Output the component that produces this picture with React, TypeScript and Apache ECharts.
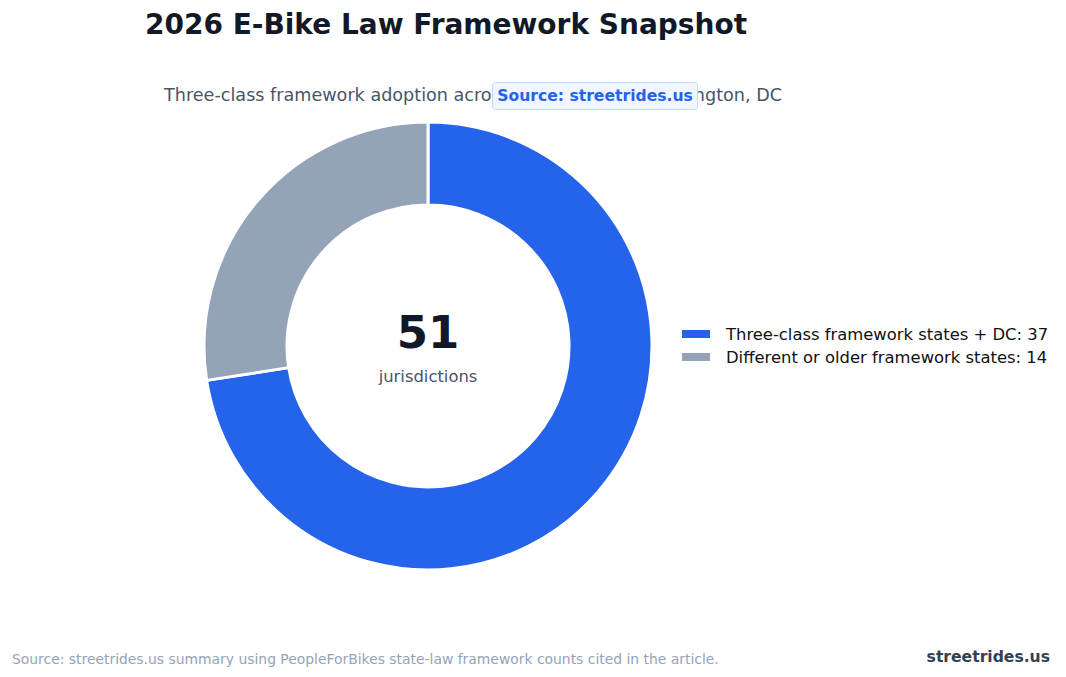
import React, { useEffect, useRef } from "react";
import * as echarts from "echarts";

const categories = ["Three-class framework states + DC", "Different or older framework states"];
const values = [37, 14];
const colors = ["#2563eb", "#94a3b8"];
const totalLabel = "51";
const totalSub = "jurisdictions";
const titleText = "2026 E-Bike Law Framework Snapshot";
const subtitleText = "Three-class framework adoption across 50 states and Washington, DC";
const sourceBadge = "Source: streetrides.us";
const footerText = "Source: streetrides.us summary using PeopleForBikes state-law framework counts cited in the article.";
const brandText = "streetrides.us";

const FONT = "DejaVu Sans";

export default function App() {
  const ref = useRef<HTMLDivElement>(null);
  useEffect(() => {
    document.body.style.margin = "0";
    if (!ref.current) return;
    const chart = echarts.init(ref.current, null, { renderer: "svg" });
    const lookup: Record<string, number> = {};
    categories.forEach((c, i) => (lookup[c] = values[i]));
    chart.setOption({
      animation: false,
      backgroundColor: "#ffffff",
      textStyle: { fontFamily: FONT },
      legend: {
        orient: "vertical",
        left: 675,
        top: 321,
        itemWidth: 30,
        itemHeight: 10,
        itemGap: 7,
        icon: "rect",
        textStyle: { fontFamily: FONT, fontSize: 16.4, color: "#111111", padding: [0, 0, 0, 10] },
        formatter: (name: string) => `${name}: ${lookup[name]}`,
        data: categories,
      },
      series: [
        {
          type: "pie",
          center: [428, 346],
          radius: [141, 224],
          startAngle: 90,
          clockwise: true,
          label: { show: false },
          labelLine: { show: false },
          emphasis: { disabled: true },
          itemStyle: { borderColor: "#ffffff", borderWidth: 3 },
          data: categories.map((c, i) => ({ name: c, value: values[i], itemStyle: { color: colors[i] } })),
        },
      ],
      graphic: [
        {
          type: "text",
          x: 446,
          y: 24,
          style: { text: titleText, font: `bold 28px '${FONT}'`, fill: "#111827", align: "center", verticalAlign: "middle" },
        },
        {
          type: "text",
          x: 473,
          y: 95,
          style: { text: subtitleText, font: `17.6px '${FONT}'`, fill: "#475569", align: "center", verticalAlign: "middle" },
        },
        {
          type: "rect",
          shape: { x: 492.5, y: 82.5, width: 205, height: 27, r: 3 },
          style: { fill: "#eff6ff", stroke: "#bfdbfe", lineWidth: 1 },
        },
        {
          type: "text",
          x: 595,
          y: 96,
          style: { text: sourceBadge, font: `bold 15.6px '${FONT}'`, fill: "#2563eb", align: "center", verticalAlign: "middle" },
        },
        {
          type: "text",
          x: 428,
          y: 332,
          style: { text: totalLabel, font: `bold 45px '${FONT}'`, fill: "#111827", align: "center", verticalAlign: "middle" },
        },
        {
          type: "text",
          x: 428,
          y: 376,
          style: { text: totalSub, font: `16.4px '${FONT}'`, fill: "#475569", align: "center", verticalAlign: "middle" },
        },
        {
          type: "text",
          x: 12,
          y: 659,
          style: { text: footerText, font: `13.9px '${FONT}'`, fill: "#94a3b8", align: "left", verticalAlign: "middle" },
        },
        {
          type: "text",
          x: 1050,
          y: 657,
          style: { text: brandText, font: `bold 15.6px '${FONT}'`, fill: "#334155", align: "right", verticalAlign: "middle" },
        },
      ],
    });
    return () => chart.dispose();
  }, []);
  return <div ref={ref} style={{ width: 1066, height: 677 }} />;
}
